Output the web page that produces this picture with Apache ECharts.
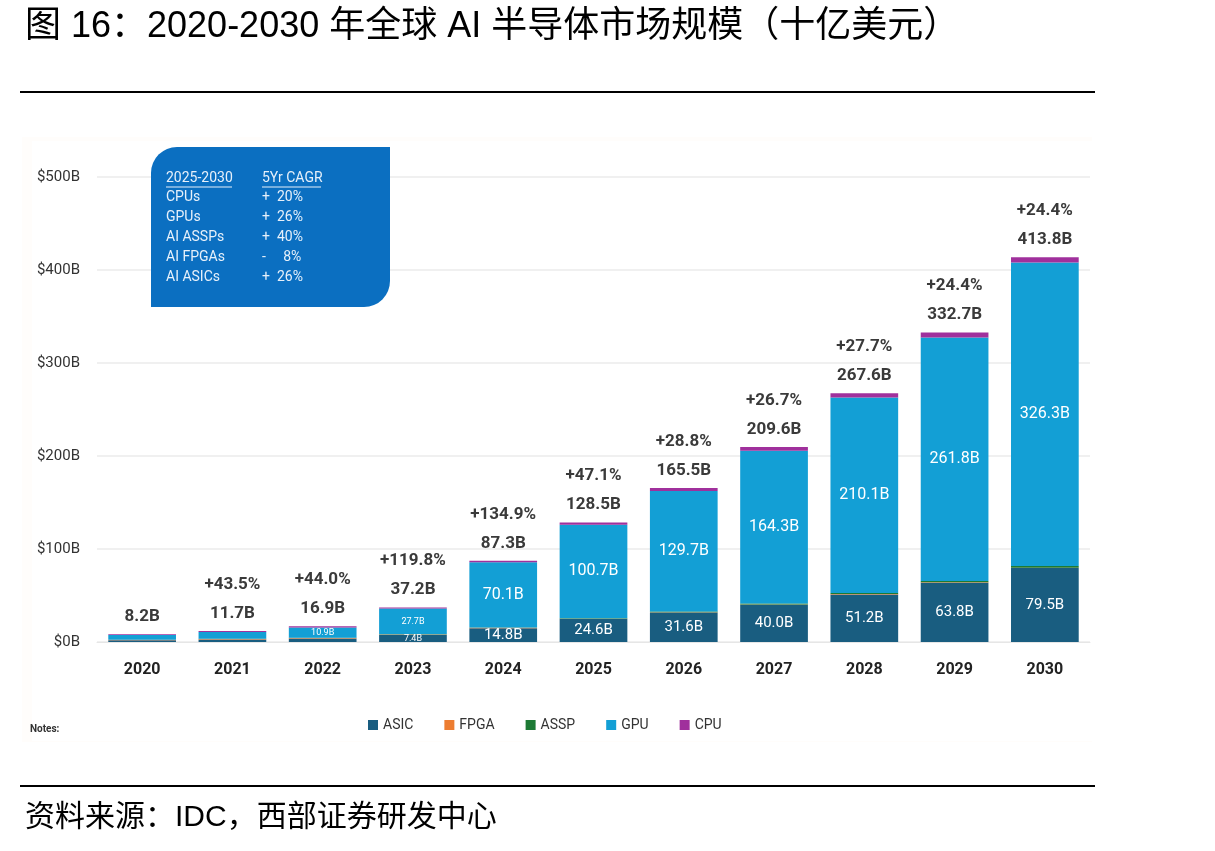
<!DOCTYPE html>
<html>
<head>
<meta charset="utf-8">
<script src="https://cdn.jsdelivr.net/npm/echarts@6/dist/echarts.min.js"></script>
<style>
  html, body { margin: 0; padding: 0; background: #fff; }
  #chart { width: 1215px; height: 851px; }
</style>
</head>
<body>
<div id="chart"></div>
<script>
// 2020-2030 全球AI半导体市场规模（十亿美元）
var years = ["2020", "2021", "2022", "2023", "2024", "2025", "2026", "2027", "2028", "2029", "2030"];
var asic = [2.0, 2.8, 3.8, 7.4, 14.8, 24.6, 31.6, 40.0, 51.2, 63.8, 79.5];
var fpga = [0.3, 0.4, 0.5, 0.6, 0.5, 0.4, 0.4, 0.4, 0.4, 0.4, 0.4];
var assp = [0.2, 0.2, 0.3, 0.3, 0.4, 0.5, 0.7, 0.9, 1.2, 1.5, 1.9];
var gpu = [4.9, 7.3, 10.9, 27.7, 70.1, 100.7, 129.7, 164.3, 210.1, 261.8, 326.3];
var cpu = [0.8, 1.0, 1.4, 1.2, 1.5, 2.3, 3.1, 4.0, 4.7, 5.2, 5.7];
var totals = ["8.2B", "11.7B", "16.9B", "37.2B", "87.3B", "128.5B", "165.5B", "209.6B", "267.6B", "332.7B", "413.8B"];
var growth = ["", "+43.5%", "+44.0%", "+119.8%", "+134.9%", "+47.1%", "+28.8%", "+26.7%", "+27.7%", "+24.4%", "+24.4%"];
var yTicks = [0, 100, 200, 300, 400, 500];
var cagrRows = [
  ["CPUs", "+  20%"],
  ["GPUs", "+  26%"],
  ["AI ASSPs", "+  40%"],
  ["AI FPGAs", "-     8%"],
  ["AI ASICs", "+  26%"]
];

var narrow = '"Roboto", "Liberation Sans", sans-serif';
var cjk = '"Liberation Sans", "Noto Sans CJK SC", sans-serif';

function innerData(vals, showFrom, smallUntil) {
  return vals.map(function (v, i) {
    var item = { value: v };
    if (i < showFrom) {
      item.label = { show: false };
    } else if (i <= smallUntil) {
      item.label = { show: true, fontSize: 9 };
    }
    return item;
  });
}

var chart = echarts.init(document.getElementById("chart"));

var graphics = [
  // 背景
  { type: "rect", z: -10, shape: { x: 22, y: 137, width: 1070, height: 605 }, style: { fill: "#fffdfb" } },
  { type: "rect", z: -9, shape: { x: 32, y: 141, width: 1060, height: 600 }, style: { fill: "#ffffff" } },
  // 标题
  { type: "text", left: 25, top: 9, style: { text: "图 16：2020-2030 年全球 AI 半导体市场规模（十亿美元）", font: "36px " + cjk, fill: "#000" } },
  { type: "line", shape: { x1: 20, y1: 92, x2: 1095, y2: 92 }, style: { stroke: "#000", lineWidth: 2 } },
  { type: "line", shape: { x1: 20, y1: 786, x2: 1095, y2: 786 }, style: { stroke: "#000", lineWidth: 2 } },
  { type: "text", left: 25, top: 803, style: { text: "资料来源：IDC，西部证券研发中心", font: "30px " + cjk, fill: "#000" } },
  { type: "text", left: 30, top: 724, style: { text: "Notes:", font: "bold 10px " + narrow, fill: "#333" } },
  // CAGR 框
  { type: "rect", z: 100, shape: { x: 151, y: 147, width: 239, height: 160, r: [26, 0, 26, 0] }, style: { fill: "#0b6fc1" } },
  { type: "text", z: 101, x: 166, y: 171, style: { text: "2025-2030", font: "14px " + narrow, fill: "#e6f0fa" } },
  { type: "text", z: 101, x: 262, y: 171, style: { text: "5Yr CAGR", font: "14px " + narrow, fill: "#e6f0fa" } },
  { type: "line", z: 101, shape: { x1: 166, y1: 187, x2: 232, y2: 187 }, style: { stroke: "#e6f0fa", lineWidth: 1 } },
  { type: "line", z: 101, shape: { x1: 262, y1: 187, x2: 321, y2: 187 }, style: { stroke: "#e6f0fa", lineWidth: 1 } }
];
cagrRows.forEach(function (row, i) {
  var y = 190 + i * 20.2;
  graphics.push({ type: "text", z: 101, x: 166, y: y, style: { text: row[0], font: "14px " + narrow, fill: "#e6f0fa" } });
  graphics.push({ type: "text", z: 101, x: 262, y: y, style: { text: row[1], font: "14px " + narrow, fill: "#e6f0fa" } });
});

chart.setOption({
  animation: false,
  color: ["#195d80", "#ed7d31", "#1d7a35", "#139fd5", "#a0309c"],
  grid: { left: 97, right: 125, top: 177, bottom: 209 },
  legend: {
    data: ["ASIC", "FPGA", "ASSP", "GPU", "CPU"],
    left: 363,
    top: 713,
    icon: "rect",
    itemWidth: 10,
    itemHeight: 10,
    itemGap: 31,
    textStyle: { fontFamily: narrow, fontSize: 14, color: "#333" }
  },
  xAxis: {
    type: "category",
    data: years,
    axisLine: { lineStyle: { color: "#e6e6e6" } },
    axisTick: { show: false },
    axisLabel: { margin: 20, fontFamily: narrow, fontSize: 16, fontWeight: "bold", color: "#222" }
  },
  yAxis: {
    type: "value",
    min: yTicks[0],
    max: yTicks[yTicks.length - 1],
    interval: 100,
    splitLine: { lineStyle: { color: "#ebebeb", width: 1.5 } },
    axisLabel: {
      margin: 17,
      fontFamily: narrow,
      fontSize: 15,
      color: "#333",
      formatter: function (v) { return "$" + v + "B"; }
    }
  },
  series: [
    {
      name: "ASIC", type: "bar", stack: "t", barCategoryGap: "25%",
      data: innerData(asic, 3, 3),
      label: {
        show: true, position: "inside", color: "#fff", fontFamily: narrow, fontSize: 15,
        formatter: function (p) { return p.value.toFixed(1) + "B"; }
      }
    },
    { name: "FPGA", type: "bar", stack: "t", data: fpga },
    { name: "ASSP", type: "bar", stack: "t", data: assp },
    {
      name: "GPU", type: "bar", stack: "t",
      data: innerData(gpu, 2, 3),
      label: {
        show: true, position: "inside", color: "#fff", fontFamily: narrow, fontSize: 16,
        formatter: function (p) { return p.value.toFixed(1) + "B"; }
      }
    },
    {
      name: "CPU", type: "bar", stack: "t", data: cpu,
      label: {
        show: true,
        position: "top",
        distance: 3,
        formatter: function (p) {
          var i = p.dataIndex;
          return growth[i] ? "{g|" + growth[i] + "}\n{v|" + totals[i] + "}" : "{v|" + totals[i] + "}";
        },
        rich: {
          g: { fontFamily: narrow, fontSize: 17, fontWeight: "bold", color: "#3a3a3a", lineHeight: 29 },
          v: { fontFamily: narrow, fontSize: 17, fontWeight: "bold", color: "#3a3a3a", lineHeight: 29 }
        }
      }
    }
  ],
  graphic: graphics
});
</script>
</body>
</html>
